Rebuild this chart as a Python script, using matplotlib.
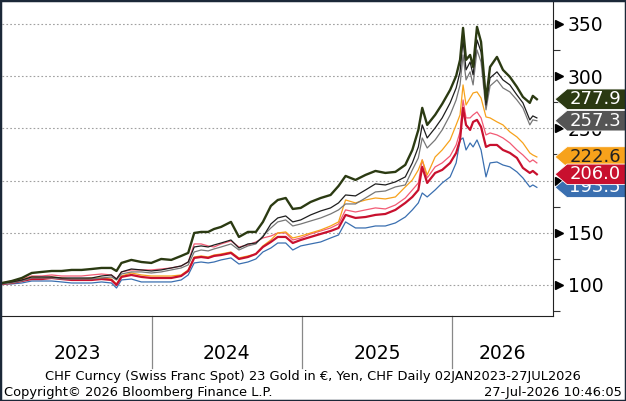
import matplotlib
matplotlib.use("Agg")
import matplotlib.pyplot as plt
from matplotlib.patches import Polygon, Rectangle
from matplotlib.transforms import blended_transform_factory

# time axis: years since 02JAN2023
t = [0.000, 0.066, 0.133, 0.199, 0.266, 0.332, 0.398, 0.465, 0.531, 0.598,
     0.664, 0.730, 0.764, 0.797, 0.863, 0.930, 0.996, 1.062, 1.129, 1.195,
     1.242, 1.282, 1.328, 1.375, 1.414, 1.461, 1.527, 1.580, 1.640, 1.693,
     1.740, 1.793, 1.839, 1.892, 1.939, 1.992, 2.058, 2.125, 2.191, 2.244,
     2.291, 2.357, 2.424, 2.490, 2.556, 2.623, 2.689, 2.736, 2.776, 2.802,
     2.835, 2.888, 2.935, 2.988, 3.028, 3.054, 3.074, 3.094, 3.121, 3.141,
     3.167, 3.194, 3.227, 3.254, 3.300, 3.340, 3.386, 3.433, 3.473, 3.519,
     3.539, 3.566]
years = [2023 + v for v in t]

green = [101.9, 103.8, 106.7, 111.5, 112.5, 113.4, 113.4, 114.4, 114.4, 115.3,
         116.3, 116.3, 113.4, 121.1, 124.0, 122.0, 121.1, 124.9, 124.0, 127.8,
         130.7, 149.8, 150.8, 150.8, 153.6, 155.6, 160.4, 146.0, 150.8, 150.8,
         160.4, 175.7, 181.4, 183.3, 172.8, 173.8, 179.5, 183.3, 186.2, 194.8,
         204.4, 200.6, 205.4, 209.2, 207.3, 208.3, 215.0, 229.3, 248.5, 269.6,
         253.3, 262.9, 273.4, 286.8, 300.2, 315.6, 346.2, 315.6, 320.3, 308.8,
         347.2, 332.8, 277.2, 308.8, 318.4, 306.0, 299.3, 289.7, 280.1, 274.4,
         281.1, 277.9]
black = [101.9, 102.9, 104.8, 107.7, 107.7, 107.7, 106.7, 106.7, 106.7, 106.7,
         108.6, 109.6, 105.7, 112.5, 115.3, 114.4, 113.4, 114.4, 116.3, 118.2,
         122.0, 136.4, 137.4, 136.4, 138.3, 140.2, 143.1, 135.4, 139.3, 140.2,
         146.0, 158.4, 164.2, 166.1, 160.4, 162.3, 167.1, 170.9, 173.8, 178.6,
         186.2, 185.3, 191.0, 196.8, 195.8, 198.7, 203.5, 216.9, 232.2, 253.3,
         240.8, 250.4, 260.0, 274.4, 288.7, 304.1, 334.7, 306.0, 313.6, 301.2,
         334.7, 323.2, 272.4, 298.3, 304.1, 296.4, 291.6, 282.0, 274.4, 258.1,
         261.9, 260.0]
gray = [101.0, 101.9, 103.8, 106.7, 106.7, 106.7, 105.7, 105.7, 105.7, 105.7,
        106.7, 107.7, 104.8, 110.5, 112.5, 112.5, 111.5, 112.5, 114.4, 116.3,
        119.2, 131.6, 133.5, 132.6, 134.5, 136.4, 139.3, 133.5, 137.4, 139.3,
        146.9, 154.6, 160.4, 162.3, 156.5, 158.4, 161.3, 164.2, 168.0, 171.9,
        177.6, 177.6, 183.3, 189.1, 190.0, 193.9, 195.8, 210.2, 221.7, 240.8,
        231.2, 238.9, 248.5, 262.9, 277.2, 291.6, 320.3, 296.4, 304.1, 291.6,
        325.1, 313.6, 267.7, 290.6, 296.4, 288.7, 284.9, 277.2, 269.6, 253.3,
        258.1, 257.3]
orange = [101.9, 102.9, 104.8, 107.7, 106.7, 107.7, 106.7, 105.7, 105.7, 106.7,
          106.7, 105.7, 101.0, 108.6, 111.5, 109.6, 108.6, 108.6, 108.6, 109.6,
          114.4, 126.8, 127.8, 126.8, 128.7, 129.7, 131.6, 125.9, 127.8, 129.7,
          137.4, 143.1, 149.8, 150.8, 145.0, 146.9, 149.8, 152.7, 156.5, 160.4,
          181.4, 178.6, 181.4, 183.3, 182.4, 184.3, 193.9, 200.6, 210.2, 219.8,
          205.4, 222.6, 229.3, 238.9, 253.3, 262.9, 291.6, 272.4, 279.1, 283.9,
          284.9, 279.1, 260.9, 260.0, 256.2, 253.3, 246.6, 241.8, 236.0, 226.5,
          224.5, 222.6]
pink = [101.9, 103.8, 105.7, 108.6, 108.6, 109.6, 108.6, 108.6, 108.6, 109.6,
        110.5, 109.6, 105.7, 112.5, 114.4, 114.4, 114.4, 115.3, 116.3, 118.2,
        122.0, 139.3, 139.3, 137.4, 136.4, 139.3, 142.2, 136.4, 138.3, 141.2,
        145.0, 146.9, 149.8, 149.8, 143.1, 145.0, 148.9, 151.7, 154.6, 158.4,
        171.9, 169.9, 171.9, 173.8, 172.8, 176.6, 183.3, 191.0, 197.7, 219.8,
        202.5, 213.1, 216.9, 223.6, 234.1, 246.6, 277.2, 260.0, 260.0, 262.9,
        265.7, 260.0, 243.7, 245.6, 243.7, 240.8, 236.0, 229.3, 224.5, 217.8,
        219.8, 216.9]
red = [101.0, 101.9, 103.8, 105.7, 105.7, 106.7, 105.7, 104.8, 104.8, 104.8,
       105.7, 104.8, 100.0, 107.7, 109.6, 107.7, 106.7, 106.7, 106.7, 108.6,
       113.4, 125.9, 126.8, 125.9, 127.8, 128.7, 130.7, 124.9, 126.8, 129.7,
       136.4, 141.2, 146.0, 146.0, 140.2, 143.1, 146.0, 148.9, 151.7, 154.6,
       167.1, 164.2, 165.1, 167.1, 168.0, 171.9, 178.6, 184.3, 191.0, 213.1,
       197.7, 207.3, 210.2, 216.9, 226.5, 238.9, 269.6, 253.3, 248.5, 256.2,
       258.1, 251.4, 232.2, 234.1, 234.1, 229.3, 226.5, 221.7, 212.1, 207.3,
       209.2, 206.0]
blue = [101.0, 101.0, 101.9, 103.8, 103.8, 103.8, 102.9, 101.9, 101.9, 101.9,
        102.9, 101.9, 97.1, 104.8, 105.7, 102.9, 102.9, 102.9, 102.9, 104.8,
        109.6, 121.1, 122.0, 121.1, 122.0, 124.0, 125.9, 120.1, 122.0, 124.9,
        131.6, 135.4, 140.2, 140.2, 133.5, 137.4, 139.3, 141.2, 145.0, 147.9,
        160.4, 154.6, 154.6, 156.5, 156.5, 159.4, 165.1, 171.9, 178.6, 188.1,
        184.3, 191.0, 197.7, 203.5, 216.9, 238.9, 240.8, 229.3, 236.0, 232.2,
        238.9, 229.3, 203.5, 216.9, 217.8, 214.9, 213.1, 208.3, 202.5, 193.9,
        195.8, 193.5]

year_labels = ["2023", "2024", "2025", "2026"]
yticks = [100, 150, 200, 250, 300, 350]

fig = plt.figure(figsize=(6.26, 4.01), dpi=100)
ax = fig.add_axes([0.003, 0.212, 0.880, 0.783])

c_green = "#2b3a12"
c_black = "#1e1e1e"
c_gray = "#777777"
c_orange = "#f7a21b"
c_pink = "#f25a74"
c_red = "#c8102e"
c_blue = "#3a6fb0"

ax.plot(years, blue, color=c_blue, lw=0.9)
ax.plot(years, pink, color=c_pink, lw=0.9)
ax.plot(years, orange, color=c_orange, lw=0.9)
ax.plot(years, red, color=c_red, lw=1.6)
ax.plot(years, gray, color=c_gray, lw=0.9)
ax.plot(years, black, color=c_black, lw=0.9)
ax.plot(years, green, color=c_green, lw=1.7)

ax.set_xlim(2023.0, 2023 + 553 / 150.6)
ax.set_ylim(70.3, 371)

for s in ["left", "top"]:
    ax.spines[s].set_visible(False)
ax.spines["right"].set_color("#222222")
ax.spines["bottom"].set_color("#222222")

ax.yaxis.tick_right()
ax.set_yticks(yticks)
ax.set_yticklabels([str(v) for v in yticks], fontsize=13.5)
ax.set_yticks([75, 125, 175, 225, 275, 325], minor=True)
ax.tick_params(axis="y", which="major", length=0, pad=11)
ax.tick_params(axis="y", which="minor", length=5, width=0.8, color="#333333")
ax.set_xticks([])
for v in yticks:
    ax.axhline(v, color="#a0a0a0", lw=0.8, ls=(0, (1.5, 2)), zorder=0)

# triangles on the right axis
tr = blended_transform_factory(ax.transAxes, ax.transData)
ax.plot([1.011] * len(yticks), yticks, ">", color="black", ms=6,
        transform=tr, clip_on=False)

# year separators and labels below the plot
trx = blended_transform_factory(ax.transData, ax.transAxes)
for yr in [2024, 2025, 2026]:
    ax.plot([yr, yr], [0, -0.166], color="#888888", lw=0.9,
            transform=trx, clip_on=False)
label_x = [2023.5, 2024.5, 2025.5, 2026.336]
for x, lab in zip(label_x, year_labels):
    ax.text(x, -0.118, lab, transform=trx, ha="center", va="center",
            fontsize=13.5)

# last value tags
tags = [(193.5, c_blue, "white"), (222.6, c_orange, "#222222"),
        (206.0, c_red, "white"), (277.9, c_green, "white"),
        (257.3, "#555555", "white")]
h = 9.8
for i, (val, col, tcol) in enumerate(tags):
    poly = Polygon([[1.004, val], [1.026, val + h], [1.2, val + h],
                    [1.2, val - h], [1.026, val - h]], closed=True,
                   facecolor=col, edgecolor="white", lw=0.6,
                   transform=tr, clip_on=False, zorder=5 + i)
    ax.add_patch(poly)
    ax.text(1.03, val, f"{val:.1f}", transform=tr, color=tcol,
            fontsize=13, va="center", ha="left", zorder=5 + i,
            clip_on=False)

fig.text(0.5, 0.062, "CHF Curncy (Swiss Franc Spot) 23 Gold in €, Yen, CHF Daily 02JAN2023-27JUL2026",
         ha="center", va="center", fontsize=9.4)
fig.text(0.006, 0.022, "Copyright© 2026 Bloomberg Finance L.P.",
         ha="left", va="center", fontsize=9.4)
fig.text(0.993, 0.022, "27-Jul-2026 10:46:05",
         ha="right", va="center", fontsize=9.4)

fig.patches.append(Rectangle((0, 0), 1, 1, transform=fig.transFigure,
                             fill=False, edgecolor="#1b2838", lw=2.5))

fig.savefig("out.png", dpi=100)
